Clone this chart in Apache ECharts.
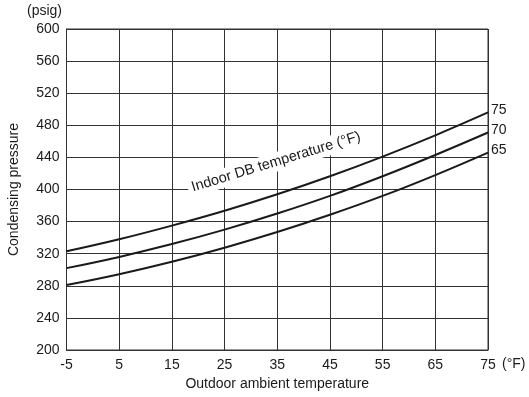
<!DOCTYPE html>
<html>
<head>
<meta charset="utf-8">
<script src="https://cdn.jsdelivr.net/npm/echarts@6/dist/echarts.min.js"></script>
<style>
html,body{margin:0;padding:0;background:#fff;}
#c{width:529px;height:397px;}
</style>
</head>
<body>
<div id="c"></div>
<script>
// Data
var xTemps = [-5, 5, 15, 25, 35, 45, 55, 65, 75];
var seriesNames = ['75', '70', '65'];
var p75 = [323, 338, 355, 373.5, 394, 416.5, 441, 467.5, 496];
var p70 = [302, 316, 332, 350, 370, 392, 416.5, 443, 471];
var p65 = [281, 294.5, 310, 327.5, 347, 368.5, 392, 418, 446];
var yTicks = [200, 240, 280, 320, 360, 400, 440, 480, 520, 560, 600];

var FONT = "'Liberation Sans', Arial, sans-serif";
var INK = '#1a1a1a';

function pairs(vals) {
  return xTemps.map(function (x, i) { return [x, vals[i]]; });
}

var chart = echarts.init(document.getElementById('c'), null, {renderer: 'canvas'});

function mkSeries(name, vals) {
  return {
    type: 'line',
    name: name,
    data: pairs(vals),
    smooth: 0.4,
    symbol: 'none',
    lineStyle: {color: INK, width: 2},
    z: 3,
    endLabel: {
      show: true,
      formatter: name,
      distance: 3,
      color: INK,
      fontFamily: FONT,
      fontSize: 14,
      offset: [0, -2]
    }
  };
}

chart.setOption({
  animation: false,
  backgroundColor: '#fff',
  grid: {left: 66.5, right: 41, top: 29, bottom: 47, show: true, borderColor: '#333', borderWidth: 1,
         containLabel: false, outerBoundsMode: 'none'},
  xAxis: {
    type: 'value',
    min: -5, max: 75, interval: 10,
    name: 'Outdoor ambient temperature',
    nameLocation: 'middle',
    nameGap: 27,
    nameTextStyle: {color: INK, fontFamily: FONT, fontSize: 14},
    axisLine: {show: true, onZero: false, lineStyle: {color: '#333', width: 1}},
    axisTick: {show: false},
    axisLabel: {color: INK, fontFamily: FONT, fontSize: 14, margin: 8},
    splitLine: {show: true, lineStyle: {color: '#333', width: 1}}
  },
  yAxis: {
    type: 'value',
    min: yTicks[0], max: yTicks[yTicks.length - 1], interval: 40,
    name: 'Condensing pressure',
    nameLocation: 'middle',
    nameGap: 45,
    nameTextStyle: {color: INK, fontFamily: FONT, fontSize: 14},
    axisLine: {show: true, onZero: false, lineStyle: {color: '#333', width: 1}},
    axisTick: {show: false},
    axisLabel: {color: INK, fontFamily: FONT, fontSize: 14, margin: 7},
    splitLine: {show: true, lineStyle: {color: '#333', width: 1}}
  },
  series: [mkSeries(seriesNames[0], p75), mkSeries(seriesNames[1], p70), mkSeries(seriesNames[2], p65)],
  graphic: [
    {type: 'text', left: 27, top: 4, style: {text: '(psig)', fill: INK, font: '14px ' + FONT}},
    {type: 'text', left: 502, top: 357, style: {text: '(°F)', fill: INK, font: '14px ' + FONT}},
    {
      type: 'text', x: 276, y: 162, rotation: 17 * Math.PI / 180, z: 10,
      style: {
        text: 'Indoor DB temperature (°F)', fill: INK, font: '14.5px ' + FONT,
        align: 'center', verticalAlign: 'middle',
        backgroundColor: '#fff', padding: [2, 4]
      }
    },
    {
      type: 'text', x: 534, y: 268, rotation: Math.PI / 2, z: 10,
      style: {text: 'Suction pressure', fill: '#c8c8c8', font: '13px ' + FONT, align: 'center', verticalAlign: 'middle'}
    }
  ]
});
</script>
</body>
</html>
